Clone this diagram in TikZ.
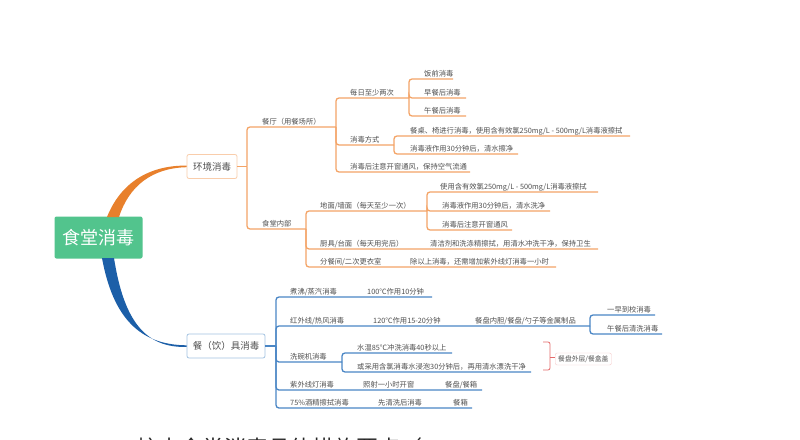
\documentclass[tikz,border=0pt]{standalone}
\usepackage{fontspec}
\newfontfamily\cjk{Noto Sans CJK SC}
\definecolor{orline}{HTML}{F4A467}
\definecolor{orthick}{HTML}{E8802C}
\definecolor{blline}{HTML}{4A86C5}
\definecolor{blthick}{HTML}{1C5FA8}
\definecolor{txtgray}{HTML}{505050}
\definecolor{midgreen}{HTML}{52C48D}
\definecolor{redline}{HTML}{E46A6A}
\tikzset{
  ol/.style={draw=orline, line width=1.3pt, rounded corners=3pt},
  bl/.style={draw=blline, line width=1.3pt, rounded corners=3pt},
  lbl/.style={anchor=base west, inner sep=0pt, text=txtgray, font=\cjk\fontsize{7.3}{8}\selectfont},
  topicbox/.style={draw=#1, line width=0.8pt, fill=white, rounded corners=2pt, minimum height=24pt, inner xsep=5pt, text=txtgray, font=\cjk\fontsize{9.5}{11}\selectfont},
}
\begin{document}
\begin{tikzpicture}[x=1pt,y=-1pt]
\useasboundingbox (0,0) rectangle (800,439);
\clip (0,0) rectangle (800,439);
\fill[white] (0,0) rectangle (800,439);

% central and main topics
\node[fill=midgreen, rounded corners=2pt, minimum width=88pt, minimum height=42pt, inner sep=0pt, text=white, font=\cjk\fontsize{18}{20}\selectfont] (root) at (98.5,237.5) {食堂消毒};
\node[topicbox=orline!55, minimum width=50pt] (env) at (212,166.5) {环境消毒};
\node[topicbox=blline!50, minimum width=78pt] (ut) at (226,346) {餐（饮）具消毒};

% thick tapered branches
\fill[orthick] (107,217) .. controls (121,182) and (150,165.2) .. (env.west |- 0,165.6) -- (env.west |- 0,167.2) .. controls (152,168) and (129,186) .. (119,217) -- cycle;
\fill[blthick] (102,258) .. controls (113,318) and (140,345) .. (ut.west |- 0,345.3) -- (ut.west |- 0,346.9) .. controls (146,348) and (124,322) .. (114,258) -- cycle;

% ===== orange branch =====
\coordinate (envj) at (247,166.5);
\draw[ol] (env.east) -- (envj);

\coordinate (ct) at (336,127);
\node[lbl] (ct-t) at (262,124) {餐厅（用餐场所）};
\draw[ol] (envj) |- (ct);

\coordinate (mr) at (409,98);
\node[lbl] (mr-t) at (350,95) {每日至少两次};
\draw[ol] (ct) |- (mr);
\coordinate (m1) at (453,79);
\node[lbl] (m1-t) at (424,76) {饭前消毒};
\draw[ol] (mr) |- (m1);
\coordinate (m2) at (466,98);
\node[lbl] (m2-t) at (424,95) {早餐后消毒};
\draw[ol] (mr) |- (m2);
\coordinate (m3) at (466,116);
\node[lbl] (m3-t) at (424,113) {午餐后消毒};
\draw[ol] (mr) |- (m3);

\coordinate (fs) at (394,145);
\node[lbl] (fs-t) at (350,142) {消毒方式};
\draw[ol] (ct) |- (fs);
\coordinate (f1) at (630,136);
\node[lbl] (f1-t) at (410,133) {餐桌、椅进行消毒，使用含有效氯250mg/L - 500mg/L消毒液擦拭};
\draw[ol] (fs) |- (f1);
\coordinate (f2) at (518,154);
\node[lbl] (f2-t) at (410,151) {消毒液作用30分钟后，清水擦净};
\draw[ol] (fs) |- (f2);

\coordinate (tf) at (470,172);
\node[lbl] (tf-t) at (350,169) {消毒后注意开窗通风，保持空气流通};
\draw[ol] (ct) |- (tf);

\coordinate (nb) at (306,229);
\node[lbl] (nb-t) at (262,226) {食堂内部};
\draw[ol] (envj) |- (nb);

\coordinate (dm) at (427,211);
\node[lbl] (dm-t) at (320,208) {地面/墙面（每天至少一次）};
\draw[ol] (nb) |- (dm);
\coordinate (d1) at (598,192);
\node[lbl] (d1-t) at (440,189) {使用含有效氯250mg/L - 500mg/L消毒液擦拭};
\draw[ol] (dm) |- (d1);
\coordinate (d2) at (550,211);
\node[lbl] (d2-t) at (442,208) {消毒液作用30分钟后，清水洗净};
\draw[ol] (dm) |- (d2);
\coordinate (d3) at (512,230);
\node[lbl] (d3-t) at (442,227) {消毒后注意开窗通风};
\draw[ol] (dm) |- (d3);

\coordinate (cj) at (598,249);
\node[lbl] (cj-t) at (320,246) {厨具/台面（每天用完后）};
\node[lbl] (cj1-t) at (430,246) {清洁剂和洗涤精擦拭，用清水冲洗干净，保持卫生};
\draw[ol] (nb) |- (cj);

\coordinate (fc) at (556,267);
\node[lbl] (fc-t) at (320,264) {分餐间/二次更衣室};
\node[lbl] (fc1-t) at (410,264) {除以上消毒，还需增加紫外线灯消毒一小时};
\draw[ol] (nb) |- (fc);

% ===== blue branch =====
\coordinate (bj) at (276,346);
\draw[bl] (ut.east) -- (bj);

\coordinate (zf) at (432,297);
\node[lbl] (zf-t) at (290,294) {煮沸/蒸汽消毒};
\node[lbl] (zf1-t) at (367,294) {100℃作用10分钟};
\draw[bl] (bj) |- (zf);

\coordinate (hw) at (590,326);
\node[lbl] (hw-t) at (290,323) {红外线/热风消毒};
\node[lbl] (hw1-t) at (373,323) {120℃作用15-20分钟};
\node[lbl] (hw2-t) at (475,323) {餐盘内胆/餐盘/勺子等金属制品};
\draw[bl] (bj) |- (hw);
\coordinate (h1) at (655,315);
\node[lbl] (h1-t) at (607,312) {一早到校消毒};
\draw[bl] (hw) |- (h1);
\coordinate (h2) at (662,334);
\node[lbl] (h2-t) at (607,331) {午餐后清洗消毒};
\draw[bl] (hw) |- (h2);

\coordinate (xw) at (342,362);
\node[lbl] (xw-t) at (290,359) {洗碗机消毒};
\draw[bl] (bj) |- (xw);
\coordinate (x1) at (452,353);
\node[lbl] (x1-t) at (357,350) {水温85℃冲洗消毒40秒以上};
\draw[bl] (xw) |- (x1);
\coordinate (x2) at (531,372);
\node[lbl] (x2-t) at (357,369) {或采用含氯消毒水浸泡30分钟后，再用清水漂洗干净};
\draw[bl] (xw) |- (x2);

% summary bracket
\coordinate (brt) at (543,342);
\coordinate (brb) at (543,370);
\coordinate (brm) at (550,357);
\node[draw=redline!35, rounded corners=2pt, inner xsep=3pt, inner ysep=2.5pt, text=txtgray, font=\cjk\fontsize{6.8}{8}\selectfont, anchor=west] (sum) at (555,359) {餐盘外层/餐盒盖};
\draw[draw=redline, line width=0.8pt, rounded corners=2pt] (brt) -| (brm) |- (brb);
\draw[draw=redline, line width=0.8pt] (brm) -- (sum.west |- brm);

\coordinate (zw) at (482,390);
\node[lbl] (zw-t) at (290,387) {紫外线灯消毒};
\node[lbl] (zw1-t) at (363,387) {照射一小时开窗};
\node[lbl] (zw2-t) at (445,387) {餐盘/餐箱};
\draw[bl] (bj) |- (zw);

\coordinate (jj) at (472,408);
\node[lbl] (jj-t) at (290,405) {75\%酒精擦拭消毒};
\node[lbl] (jj1-t) at (378,405) {先清洗后消毒};
\node[lbl] (jj2-t) at (453,405) {餐箱};
\draw[bl] (bj) |- (jj);

% clipped heading of the following text (only its top shows, as in the reference)
\node[anchor=base west, inner sep=0pt, text=black!85, font=\cjk\fontsize{22}{24}\selectfont] (next) at (58,456) {1\quad 二、校内食堂消毒具体措施要点（};
\end{tikzpicture}
\end{document}
